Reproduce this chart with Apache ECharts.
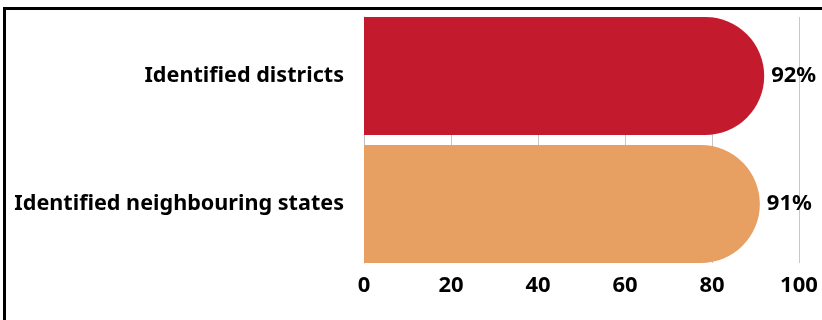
<!DOCTYPE html>
<html>
<head>
<meta charset="utf-8">
<script src="https://cdn.jsdelivr.net/npm/echarts@6/dist/echarts.min.js"></script>
<style>
  html, body { margin: 0; padding: 0; background: #fff; }
  #frame { position: absolute; left: 3px; top: 7px; width: 819px; height: 313px; border-left: 3px solid #000; border-top: 3px solid #000; box-sizing: border-box; }
  #chart { position: absolute; left: 0; top: 0; width: 822px; height: 320px; }
</style>
</head>
<body>
<div id="frame"></div>
<div id="chart"></div>
<script>
const categories = ['Identified districts', 'Identified neighbouring states'];
const values = [92, 91];
const barColors = ['#C41A2E', '#E79F62'];
const xTicks = [0, 20, 40, 60, 80, 100];

const FONT = '"Noto Sans", sans-serif';
const chart = echarts.init(document.getElementById('chart'), null, { renderer: 'canvas' });

chart.setOption({
  backgroundColor: 'transparent',
  animation: false,
  grid: [
    { left: 364, right: 23, top: 12, height: 256 },
    { left: 364, right: 23, top: 17, height: 246 }
  ],
  xAxis: [
    { gridIndex: 0, type: 'value', min: xTicks[0], max: xTicks[xTicks.length - 1], interval: 20,
      axisLine: { show: false }, axisTick: { show: false }, axisLabel: { show: false }, splitLine: { show: false } },
    { gridIndex: 1, type: 'value', min: xTicks[0], max: xTicks[xTicks.length - 1], interval: 20,
      axisLine: { show: false }, axisTick: { show: false },
      axisLabel: { color: '#000', fontFamily: FONT, fontWeight: 'bold', fontSize: 22, margin: 12 },
      splitLine: { show: true, lineStyle: { color: '#C8C8C8', width: 1 } } }
  ],
  yAxis: [
    { gridIndex: 0, type: 'category', data: categories, inverse: true,
      axisLine: { show: false }, axisTick: { show: false },
      axisLabel: { color: '#000', fontFamily: FONT, fontWeight: 'bold', fontSize: 21.6, margin: 20 } },
    { gridIndex: 1, type: 'value', min: 0, max: 1, show: true,
      axisLine: { show: true, lineStyle: { color: '#BFBFBF', width: 1 } },
      axisTick: { show: false }, axisLabel: { show: false }, splitLine: { show: false } }
  ],
  series: [{
    type: 'bar',
    xAxisIndex: 0, yAxisIndex: 0,
    barWidth: 118,
    data: values.map((v, i) => ({ value: v, itemStyle: { color: barColors[i] } })),
    itemStyle: { borderRadius: [0, 59, 59, 0] },
    label: { show: true, position: 'right', distance: 7, formatter: '{c}%',
      color: '#000', fontFamily: FONT, fontWeight: 'bold', fontSize: 22 },
    z: 3
  }]
});
</script>
</body>
</html>
